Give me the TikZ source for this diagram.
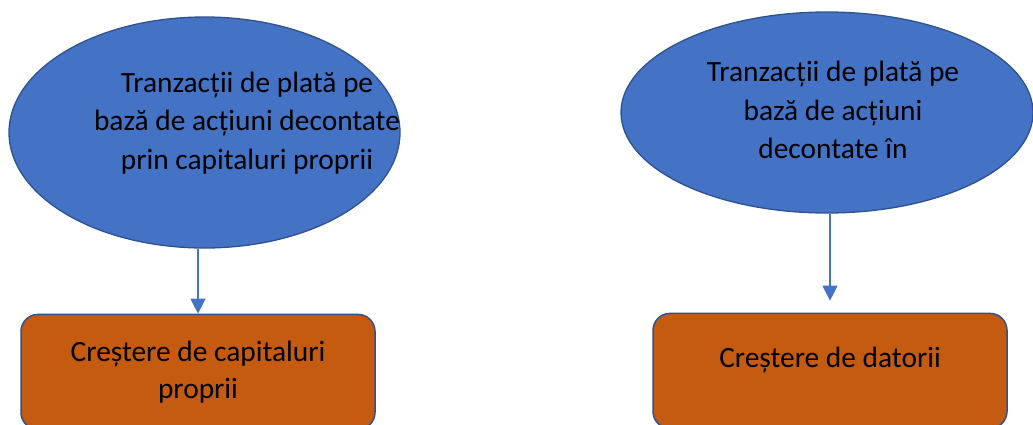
\documentclass[tikz,border=0pt]{standalone}
\usepackage{fontspec}
\setmainfont{Carlito}
\usetikzlibrary{positioning,arrows.meta,shapes.geometric}
\definecolor{ovalblue}{HTML}{4472C4}
\definecolor{edgeblue}{HTML}{2F528F}
\definecolor{boxorange}{HTML}{C55A11}
\tikzset{
    >={Triangle[width=15pt,length=15pt]},
    oval/.style={ellipse, draw=edgeblue, fill=ovalblue, line width=1.3pt, inner sep=0pt},
    ovaltext/.style={align=center, font=\fontsize{29.4}{38.5}\selectfont},
    result/.style={rectangle, rounded corners=17pt, draw=edgeblue, fill=boxorange, line width=1.5pt, align=center, minimum width=354pt, minimum height=115pt, font=\fontsize{29.4}{37}\selectfont},
    link/.style={->, draw=ovalblue, line width=1.2pt}
}
\begin{document}
\begin{tikzpicture}[x=1pt, y=-1pt]
    \clip (0,0) rectangle (1033,424);
    % equity-settled side
    \node[oval, minimum width=391pt, minimum height=231pt] (equity) at (204.5,132.5) {};
    \node[ovaltext] (equitytext) at (247,123) {Tranzacții de plată pe\\bază de acțiuni decontate\\prin capitaluri proprii};
    \node[result, below=65pt of equity, xshift=-6.5pt] (capinc) {Creștere de capitaluri\\proprii};
    % cash-settled side
    \node[oval, minimum width=412pt, minimum height=201pt] (debt) at (827,112.5) {};
    \node[ovaltext] (debttext) at (833,110) {Tranzacții de plată pe\\bază de acțiuni\\decontate în};
    \node[result, text depth=27pt, below=99pt of debt, xshift=3pt] (debtinc) {Creștere de datorii};
    \draw[link] (equity.south -| capinc.north) -- (capinc.north);
    \draw[link, shorten >=12pt] (debt.south -| debtinc.north) -- (debtinc.north);
\end{tikzpicture}
\end{document}
